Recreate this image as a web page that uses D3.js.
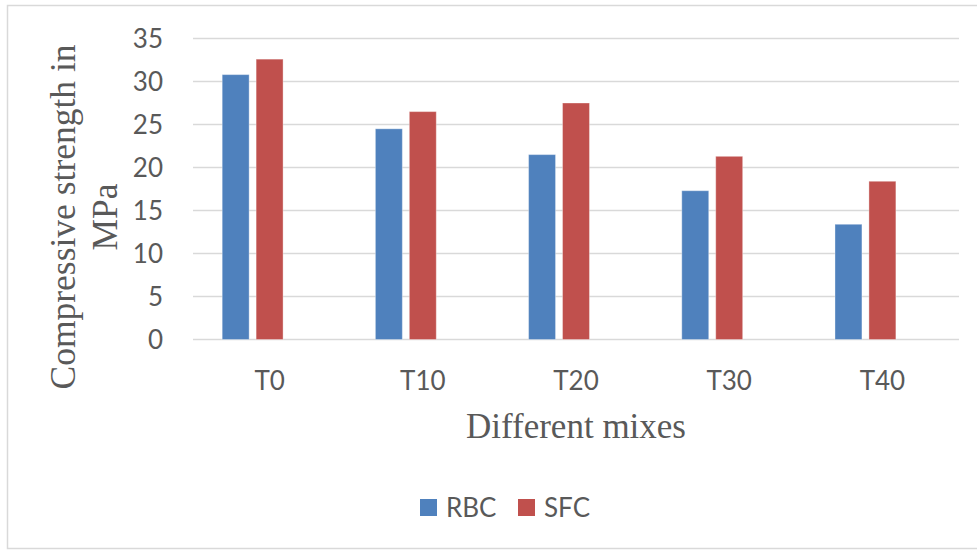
<!DOCTYPE html>
<html>
<head>
<meta charset="utf-8">
<script src="https://cdn.jsdelivr.net/npm/d3@7"></script>
<style>
  html, body { margin: 0; padding: 0; background: #fff; }
  svg { display: block; }
</style>
</head>
<body>
<svg id="chart" width="977" height="550"></svg>
<script>
// Compressive strength of the two concrete types for each mix
const mixes = ["T0", "T10", "T20", "T30", "T40"];
const seriesNames = ["RBC", "SFC"];
const rbcValues = [30.8, 24.5, 21.5, 17.3, 13.4];
const sfcValues = [32.6, 26.5, 27.5, 21.3, 18.4];
const yTicks = [0, 5, 10, 15, 20, 25, 30, 35];
const seriesColors = ["#4f81bd", "#c0504d"];

const svg = d3.select("#chart");
const W = 977, H = 550;

// outer chart frame
svg.append("rect")
  .attr("x", 7.5).attr("y", 5.5)
  .attr("width", W + 10).attr("height", H - 7)
  .attr("fill", "#fff").attr("stroke", "#d9d9d9").attr("stroke-width", 1.5);

const plot = { left: 193, right: 959, top: 38.5, bottom: 339.5 };

const x0 = d3.scaleBand().domain(mixes).range([plot.left, plot.right]).padding(0);
// three slots per category; the third is left empty
const x1 = d3.scaleBand().domain([0, 1, 2]).range([0, x0.bandwidth()])
  .paddingInner(0.206).paddingOuter(0.86);
const y = d3.scaleLinear().domain([0, 35]).range([plot.bottom, plot.top]);

// horizontal gridlines
svg.append("g").selectAll("line").data(yTicks).join("line")
  .attr("x1", plot.left).attr("x2", plot.right)
  .attr("y1", d => y(d)).attr("y2", d => y(d))
  .attr("stroke", "#d9d9d9").attr("stroke-width", 1.6);

// y tick labels
const labelFont = "Lato, 'Open Sans', sans-serif";
svg.append("g").selectAll("text").data(yTicks).join("text")
  .attr("x", 163).attr("y", d => y(d))
  .attr("dy", "0.36em")
  .attr("text-anchor", "end")
  .attr("font-family", labelFont).attr("font-size", 26)
  .attr("fill", "#595959")
  .text(d => d);

// bars
const rows = mixes.map((m, i) => ({ mix: m, values: [rbcValues[i], sfcValues[i]] }));
const groups = svg.append("g").selectAll("g").data(rows).join("g")
  .attr("transform", d => `translate(${x0(d.mix)},0)`);
groups.selectAll("rect")
  .data(d => d.values.map((v, k) => ({ k, v })))
  .join("rect")
  .attr("x", d => x1(d.k))
  .attr("width", x1.bandwidth())
  .attr("y", d => y(d.v))
  .attr("height", d => y(0) - y(d.v))
  .attr("fill", d => seriesColors[d.k])
  .attr("stroke", "rgba(255,255,255,0.35)")
  .attr("stroke-width", 1);

// category labels
svg.append("g").selectAll("text").data(mixes).join("text")
  .attr("x", d => x0(d) + x0.bandwidth() / 2)
  .attr("y", 390)
  .attr("text-anchor", "middle")
  .attr("font-family", labelFont).attr("font-size", 26)
  .attr("fill", "#595959")
  .text(d => d);

// axis titles
const titleFont = "'Liberation Serif', 'Times New Roman', serif";
svg.append("text")
  .attr("x", (plot.left + plot.right) / 2).attr("y", 438)
  .attr("text-anchor", "middle")
  .attr("font-family", titleFont).attr("font-size", 35)
  .attr("fill", "#595959")
  .text("Different mixes");

const yTitle = svg.append("text")
  .attr("transform", "translate(0,217) rotate(-90)")
  .attr("text-anchor", "middle")
  .attr("font-family", titleFont).attr("font-size", 35.5)
  .attr("fill", "#595959");
yTitle.append("tspan").attr("x", 0).attr("y", 75).text("Compressive strength in");
yTitle.append("tspan").attr("x", 0).attr("y", 117).text("MPa");

// legend
const legend = svg.append("g").selectAll("g").data(seriesNames).join("g")
  .attr("transform", (d, i) => `translate(${i === 0 ? 420 : 518},499)`);
legend.append("rect")
  .attr("width", 17).attr("height", 17)
  .attr("fill", (d, i) => seriesColors[i]);
legend.append("text")
  .attr("x", 26).attr("y", 8.5).attr("dy", "0.36em")
  .attr("font-family", labelFont).attr("font-size", 26)
  .attr("fill", "#595959")
  .text(d => d);
</script>
</body>
</html>
